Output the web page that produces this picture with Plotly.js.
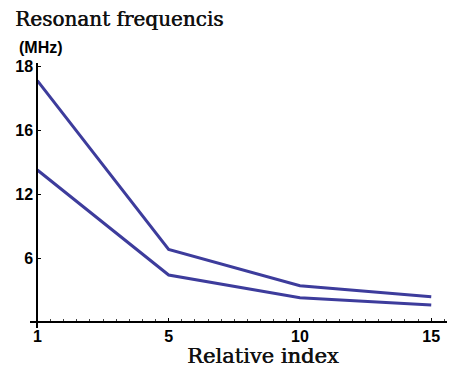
<!DOCTYPE html>
<html>
<head>
<meta charset="utf-8">
<script src="https://cdn.plot.ly/plotly-3.0.1.min.js"></script>
<style>html,body{margin:0;padding:0;background:#fff;}#chart{width:451px;height:370px;}</style>
</head>
<body>
<div id="chart"></div>
<script>
// Category labels along the x axis (evenly spaced in the original)
var categories = ["1", "5", "10", "15"];
// Two resonant-frequency curves (values on the drawn vertical scale)
var upperSeries = [22.7, 6.85, 3.44, 2.40];
var lowerSeries = [14.3, 4.44, 2.31, 1.62];
// Y tick positions and the labels printed at them
var yTickVals = [6, 12, 18, 24];
var yTickText = ["6", "12", "16", "18"];

var xIdx = categories.map(function (c, i) { return i; });
var lineColor = "#3d3c9c";

var traces = [
  {x: xIdx, y: upperSeries, type: "scatter", mode: "lines", line: {color: lineColor, width: 3}, hoverinfo: "none"},
  {x: xIdx, y: lowerSeries, type: "scatter", mode: "lines", line: {color: lineColor, width: 3}, hoverinfo: "none"}
];

var xr = [-0.056, 3.12];
var yr = [-0.535, 24.35];
var tickFont = {family: "Liberation Sans", size: 16, color: "#000", weight: "bold"};

var layout = {
  width: 451, height: 370,
  margin: {l: 30, r: 4, t: 63, b: 42, pad: 0},
  paper_bgcolor: "#fff", plot_bgcolor: "#fff",
  showlegend: false,
  title: {
    text: "Resonant frequencis",
    font: {family: "DejaVu Serif", size: 20, color: "#111", shadow: "0.6px 0 0 #111"},
    xref: "container", yref: "container",
    x: 15 / 451, xanchor: "left",
    y: 1 - 12 / 370, yanchor: "top"
  },
  xaxis: {
    range: xr,
    anchor: "free",
    position: (0 - yr[0]) / (yr[1] - yr[0]),
    showgrid: false, zeroline: false,
    showline: true, linecolor: "#000", linewidth: 2,
    tickmode: "array", tickvals: xIdx, ticktext: categories,
    ticks: "inside", ticklen: 3, tickwidth: 1, tickcolor: "#000",
    ticklabelstandoff: -1,
    minor: {dtick: 0.1, tick0: 0, ticks: "inside", ticklen: 2, tickwidth: 1, tickcolor: "#444", showgrid: false},
    tickfont: tickFont,
    automargin: false
  },
  yaxis: {
    range: yr,
    anchor: "free",
    position: (0 - xr[0]) / (xr[1] - xr[0]),
    showgrid: false, zeroline: false,
    showline: true, linecolor: "#000", linewidth: 2,
    tickmode: "array", tickvals: yTickVals, ticktext: yTickText,
    ticks: "inside", ticklen: 3, tickwidth: 1, tickcolor: "#000",
    tickfont: tickFont,
    automargin: false
  },
  annotations: [
    {text: "(MHz)", xref: "paper", yref: "paper", x: (17 - 30) / 417, y: (328 - 37) / 265,
     xanchor: "left", yanchor: "top", showarrow: false,
     font: {family: "Liberation Sans", size: 16, color: "#000", weight: "bold"}},
    {text: "Relative index", xref: "paper", yref: "paper", x: (263 - 30) / 417, y: (328 - 370) / 265,
     xanchor: "center", yanchor: "bottom", showarrow: false,
     font: {family: "DejaVu Serif", size: 21, color: "#111", shadow: "0.6px 0 0 #111"}}
  ]
};

Plotly.newPlot("chart", traces, layout, {staticPlot: true, displayModeBar: false});
</script>
</body>
</html>
